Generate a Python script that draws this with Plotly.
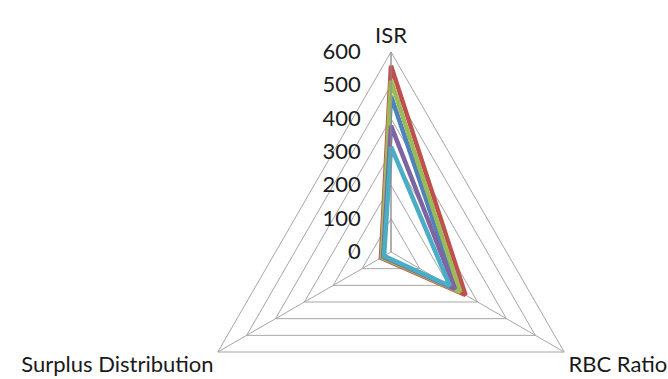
import plotly.graph_objects as go

# ---- data ----
categories = ["ISR", "RBC Ratio", "Surplus Distribution"]
series_names = ["Series 1", "Series 2", "Series 3", "Series 4", "Series 5"]
series_blue = [468, 228, 30]
series_red = [559, 258, 35]
series_green = [514, 240, 32]
series_purple = [379, 222, 27]
series_aqua = [316, 204, 24]
radial_tick_values = [0, 100, 200, 300, 400, 500, 600]
radial_tick_labels = ["0", "100", "200", "300", "400", "500", "600"]

series_values = [series_blue, series_red, series_green, series_purple, series_aqua]
colors = ["#4F81BD", "#C0504D", "#9BBB59", "#8064A2", "#4BACC6"]

FONT = "Lato, 'Open Sans', sans-serif"
TEXT_COLOR = "#1a1a1a"
GRID = "#a6a6a6"

fig = go.Figure()
for name, vals, col in zip(series_names, series_values, colors):
    fig.add_trace(go.Scatterpolar(
        r=vals + vals[:1],
        theta=categories + categories[:1],
        mode="lines",
        name=name,
        line=dict(color=col, width=4.5),
        showlegend=False,
        hoverinfo="r+theta+name",
    ))

W, H = 668, 460
cx, cy, R = 391, 252, 200
fig.update_layout(
    width=W, height=H,
    margin=dict(l=0, r=0, t=0, b=0),
    paper_bgcolor="white",
    font=dict(family=FONT, size=22, color=TEXT_COLOR),
    polar=dict(
        domain=dict(x=[(cx - R) / W, (cx + R) / W],
                    y=[(H - cy - R) / H, (H - cy + R) / H]),
        gridshape="linear",
        bgcolor="white",
        radialaxis=dict(
            range=[0, 600],
            tickvals=radial_tick_values,
            ticktext=radial_tick_labels,
            angle=90,
            side="counterclockwise",
            showline=True,
            linecolor="#8c8c8c",
            linewidth=1,
            gridcolor=GRID,
            gridwidth=1,
            ticks="outside",
            ticklen=22,
            tickcolor="rgba(0,0,0,0)",
            tickangle=90,
            tickfont=dict(family=FONT, size=22, color=TEXT_COLOR),
        ),
        angularaxis=dict(
            type="category",
            direction="clockwise",
            rotation=90,
            showline=True,
            linecolor=GRID,
            linewidth=1,
            gridcolor=GRID,
            gridwidth=1,
            ticks="",
            tickfont=dict(family=FONT, size=22, color=TEXT_COLOR),
        ),
    ),
)

fig.write_html(
    "out.html",
    config={"displayModeBar": False},
    post_script="document.documentElement.style.overflow='hidden';document.body.style.overflow='hidden';document.body.style.margin='0';",
)
